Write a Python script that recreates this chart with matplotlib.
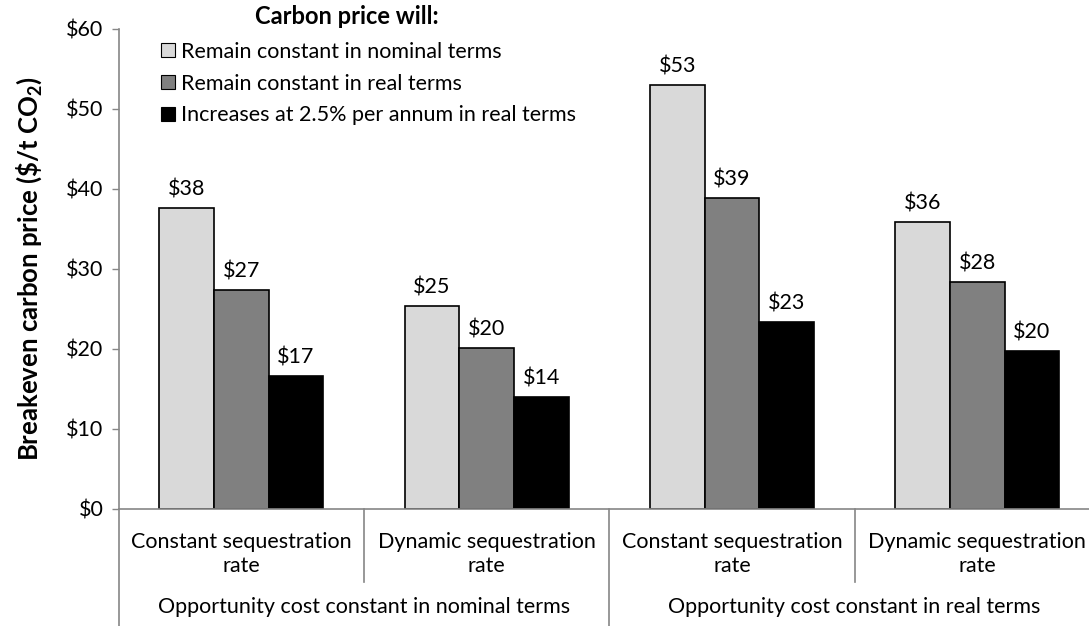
import matplotlib.pyplot as plt
import matplotlib.ticker as ticker
import matplotlib.transforms as mtransforms
import numpy as np

plt.rcParams['font.family'] = ['Lato', 'DejaVu Sans']
plt.rcParams['mathtext.fontset'] = 'custom'
plt.rcParams['mathtext.rm'] = 'Lato'
plt.rcParams['mathtext.bf'] = 'Lato:bold'

categories = ['Constant sequestration\nrate', 'Dynamic sequestration\nrate',
              'Constant sequestration\nrate', 'Dynamic sequestration\nrate']
groups = ['Opportunity cost constant in nominal terms', 'Opportunity cost constant in real terms']
series_names = ['Remain constant in nominal terms', 'Remain constant in real terms',
                'Increases at 2.5% per annum in real terms']
nominal = [37.6, 25.4, 53.0, 35.9]
real = [27.4, 20.1, 38.9, 28.4]
increasing = [16.6, 14.0, 23.4, 19.7]
colors = ['#d9d9d9', '#808080', '#000000']

axis_grey = '#868686'

fig = plt.figure(figsize=(10.89, 6.26), dpi=100)
ax = fig.add_axes([0.109, 0.187, 0.891, 0.767])

x = np.arange(len(categories))
w = 0.223
for i, (vals, col, name) in enumerate(zip([nominal, real, increasing], colors, series_names)):
    bars = ax.bar(x + (i - 1) * w, vals, w, color=col, edgecolor='black', linewidth=1.2, label=name)
    for b, v in zip(bars, vals):
        ax.annotate(f'${v:.0f}', (b.get_x() + b.get_width() / 2, v), xytext=(0, 6),
                    textcoords='offset points', ha='center', va='bottom', fontsize=15.5)

ax.set_ylim(0, 60)
ax.set_xlim(-0.5, 3.456)
ax.yaxis.set_major_locator(ticker.MultipleLocator(10))
ax.yaxis.set_major_formatter(ticker.FuncFormatter(lambda v, _: f'${v:.0f}'))
ax.tick_params(axis='y', labelsize=15.5, length=5, color=axis_grey, width=1, pad=6)
ax.set_xticks([])
for s in ['top', 'right']:
    ax.spines[s].set_visible(False)
for s in ['left', 'bottom']:
    ax.spines[s].set_color(axis_grey)
    ax.spines[s].set_linewidth(1.2)

ax.set_ylabel(r'Breakeven carbon price (\$/t CO$_\mathbf{2}$)', fontsize=18.5, fontweight='bold')
ax.yaxis.set_label_coords(-0.077, 0.5)

# two-level category axis
trans = mtransforms.blended_transform_factory(ax.transData, ax.transAxes)
for xs in [0.5, 2.5]:
    ax.plot([xs, xs], [0, -0.152], color=axis_grey, lw=1.2, transform=trans, clip_on=False)
for xs in [-0.5, 1.5]:
    ax.plot([xs, xs], [0, -0.25], color=axis_grey, lw=1.2, transform=trans, clip_on=False)
for xi, lab in zip(x, categories):
    ax.text(xi, -0.094, lab, transform=trans, ha='center', va='center', fontsize=15.5, linespacing=1.3)
for gi, lab in enumerate(groups):
    ax.text(gi * 2 + 0.5, -0.204, lab, transform=trans, ha='center', va='center', fontsize=15.5)

leg = ax.legend(loc='upper left', bbox_to_anchor=(0.035, 0.991), frameon=False, fontsize=15.5,
                handlelength=0.62, handleheight=0.62, handletextpad=0.3, labelspacing=0.55,
                borderaxespad=0)
for h in leg.legend_handles:
    h.set_linewidth(0.8)
fig.text(347 / 1089, 1 - 16 / 626, 'Carbon price will:', ha='center', va='center',
         fontsize=17, fontweight='bold')

fig.savefig('out.png', dpi=100)
